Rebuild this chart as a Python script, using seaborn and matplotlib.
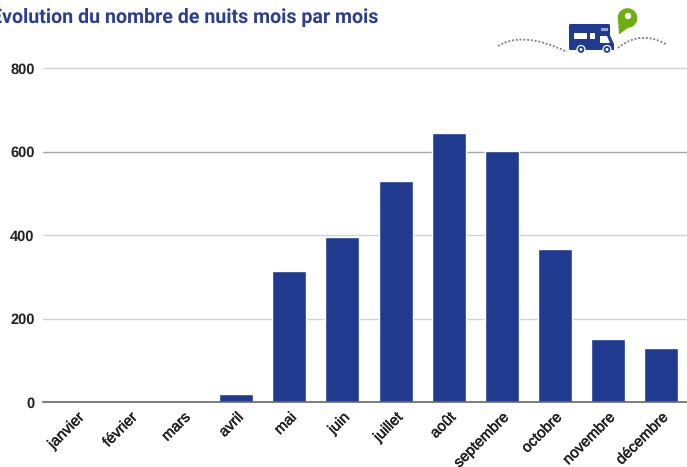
import numpy as np
import pandas as pd
import matplotlib
matplotlib.use("Agg")
import matplotlib.pyplot as plt
import matplotlib.patheffects as pe
from matplotlib.path import Path
from matplotlib.patches import FancyBboxPatch, Circle, Rectangle, Polygon, PathPatch
import seaborn as sns

months = ["janvier", "février", "mars", "avril", "mai", "juin", "juillet", "août",
          "septembre", "octobre", "novembre", "décembre"]
nights = [0, 0, 0, 19, 314, 396, 529, 645, 602, 366, 151, 129]
yticks = [0, 200, 400, 600, 800]
title = "Évolution du nombre de nuits mois par mois"

BLUE = "#1f3a8f"
W, H = 687, 467
sns.set_theme(style="white")
plt.rcParams["font.family"] = ["Liberation Sans", "DejaVu Sans"]
plt.rcParams["text.hinting"] = "none"

fig = plt.figure(figsize=(W / 100, H / 100), dpi=100)
ax = fig.add_axes([43 / W, 1 - 402 / H, (W - 43) / W, 334 / H])
df = pd.DataFrame({"mois": months, "nuits": nights})
sns.barplot(data=df, x="mois", y="nuits", order=months, color=BLUE, saturation=1,
            width=0.64, ax=ax, zorder=3)
ax.set_xlim(-0.64, 11.49)
ax.set_ylim(0, 800)
ax.set_xlabel("")
ax.set_ylabel("")
sns.despine(ax=ax, left=True, top=True, right=True, bottom=False)
ax.spines["bottom"].set_color("#666666")
ax.spines["bottom"].set_linewidth(1.2)
ax.spines["bottom"].set_zorder(4)
ax.set_yticks(yticks)
ax.set_yticklabels([str(v) for v in yticks], fontsize=10.5, fontweight="bold", color="#222222",
                   family="Liberation Sans")
ax.tick_params(axis="y", length=0, pad=6)
ax.tick_params(axis="x", length=0, pad=6)
ax.set_axisbelow(True)
ax.yaxis.grid(True, color="#d2d2d2", linewidth=1)
ax.xaxis.grid(False)
ax.get_ygridlines()[3].set_color("#a8a8a8")
ax.get_ygridlines()[4].set_clip_on(False)
for lab in ax.get_xticklabels():
    lab.set_family("Liberation Sans")
    lab.set_rotation(45)
    lab.set_ha("right")
    lab.set_rotation_mode("anchor")
    lab.set_fontsize(10.8)
    lab.set_color("#222222")
    lab.set_path_effects([pe.withStroke(linewidth=0.35, foreground="#222222")])

fig.text(-9 / W, 1 - 16 / H, title, fontsize=14.1, fontweight="bold", color="#2c3e8c",
         family="Roboto", va="center", ha="left")

# logo, drawn in pixel coordinates of the figure
logo = fig.add_axes([0, 0, 1, 1], facecolor="none")
logo.set_xlim(0, W)
logo.set_ylim(H, 0)
logo.axis("off")
trail_left = Path([(498, 46), (512, 37), (535, 36), (567, 52)],
                  [Path.MOVETO, Path.CURVE4, Path.CURVE4, Path.CURVE4])
trail_right = Path([(618, 48), (633, 35), (652, 35), (667, 45)],
                   [Path.MOVETO, Path.CURVE4, Path.CURVE4, Path.CURVE4])
for trail in (trail_left, trail_right):
    logo.add_patch(PathPatch(trail, fc="none", ec="#76809f", lw=1.3, ls=(0, (1.1, 1.0))))
logo.add_patch(FancyBboxPatch((569, 24), 41, 26, boxstyle="round,pad=0,rounding_size=1.5",
                              fc=BLUE, ec="none"))
logo.add_patch(Polygon([[600, 33], [609, 33], [614, 44], [614, 50], [600, 50]], fc=BLUE, ec="none"))
logo.add_patch(Rectangle((574, 33), 13, 6, fc="white", ec="none"))
logo.add_patch(Rectangle((590, 33), 5, 6, fc="white", ec="none"))
logo.add_patch(Polygon([[600, 36], [607, 36], [610, 43], [600, 43]], fc="white", ec="none"))
logo.add_patch(Rectangle((601, 28), 7, 2.5, fc="#9aa5cc", ec="none"))
for cx in (581, 607):
    logo.add_patch(Circle((cx, 49.5), 4, fc=BLUE, ec="white", lw=0.9))
    logo.add_patch(Circle((cx, 49.5), 1.5, fc="white", ec="none"))
logo.add_patch(Circle((627.5, 18), 9.8, fc="#6cb00f", ec="none"))
logo.add_patch(Polygon([[619, 34.5], [618, 19], [637, 21]], fc="#6cb00f", ec="none"))
logo.add_patch(Circle((628, 16), 3.2, fc="white", ec="none"))

fig.savefig("out.png", dpi=100)
